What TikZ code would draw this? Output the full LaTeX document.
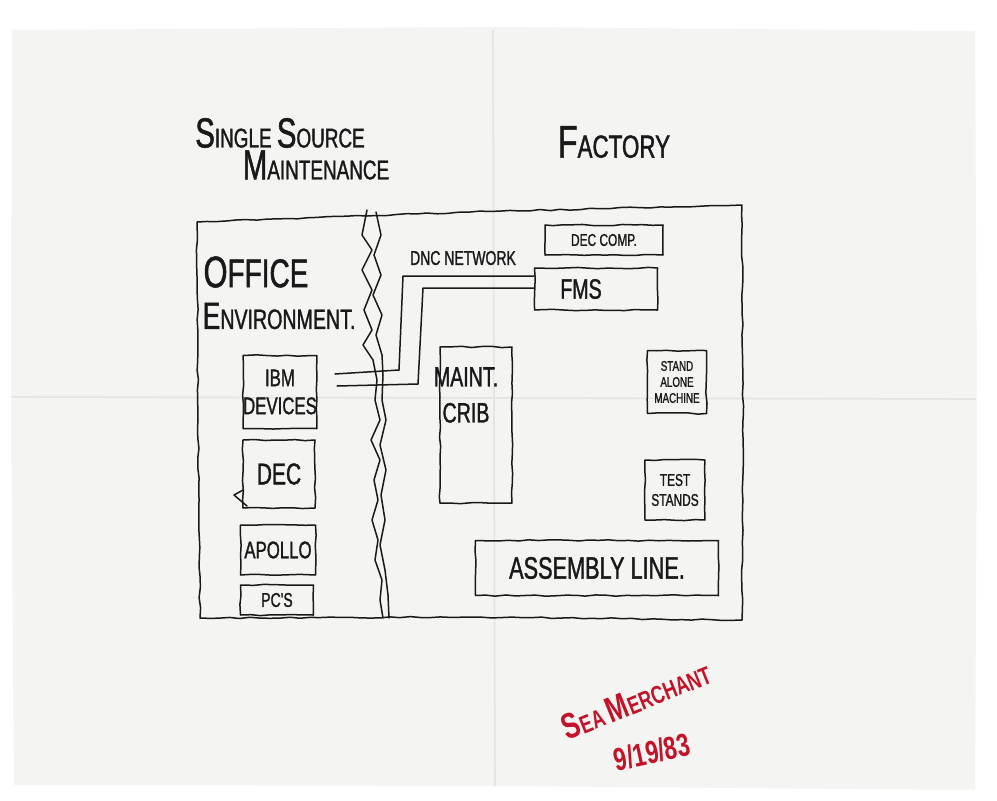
\documentclass[tikz,border=0pt]{standalone}
\usepackage{fontspec}
\newfontfamily\hand[FakeStretch=0.7,FakeBold=1.2]{Liberation Sans}
\newfontfamily\redhand[FakeStretch=0.72]{Liberation Sans Bold}
\usetikzlibrary{decorations.pathmorphing}
\newcommand\hsz[1]{\fontsize{#1}{#1}\selectfont}
\definecolor{napkin}{RGB}{244,244,242}
\definecolor{fold}{RGB}{228,228,226}
\definecolor{ink}{RGB}{25,25,25}
\definecolor{redink}{RGB}{196,18,40}
\tikzset{
  pen/.style={line width=1.5pt, draw=ink, line cap=round, line join=round},
  sk/.style={decorate, decoration={random steps, segment length=10pt, amplitude=0.7pt}},
  hbox/.style={pen, sk, rectangle, inner sep=0pt, align=center, text=ink, font=\hand},
  htext/.style={text=ink, font=\hand, inner sep=0pt, align=center},
  rtext/.style={text=redink, font=\redhand, inner sep=0pt, align=center},
}
\begin{document}
\begin{tikzpicture}[x=1pt,y=-1pt]
\pgfmathsetseed{7}
\useasboundingbox (0,0) rectangle (997,801);
\fill[white] (0,0) rectangle (997,801);
% napkin
\fill[napkin] (12,30) -- (500,27) -- (975,31) -- (977,420) -- (975,790) -- (500,786) -- (14,785) -- (11,400) -- cycle;
\draw[fold, line width=1.6pt] (493,30) -- (495,786);
\draw[fold, line width=1.6pt] (12,397) -- (976,399);

% titles
\node[htext] (t1) at (280,133) {\hsz{42}S\hsz{27}INGLE \hsz{42}S\hsz{27}OURCE};
\node[htext] (t2) at (316,165) {\hsz{42}M\hsz{27}AINTENANCE};
\node[htext] (t3) at (614,142) {\hsz{46}F\hsz{32}ACTORY};

% frame
\draw[pen, sk] (197,222) -- (470,212) -- (742,205) -- (743,420) -- (742,620) -- (470,617) -- (200,618) -- (198,420) -- cycle;

% divider
\draw[pen] (367,210) -- (362,235) -- (372,250) -- (362,270) -- (372,290) -- (364,310) -- (372,330) -- (363,345) -- (373,360) -- (377,380) -- (375,400) -- (380,420) -- (371,440) -- (380,460) -- (374,480) -- (378,500) -- (372,520) -- (378,540) -- (375,560) -- (382,580) -- (380,600) -- (383,618);
\draw[pen] (376,212) -- (381,235) -- (374,255) -- (381,275) -- (373,295) -- (382,315) -- (376,335) -- (382,355) -- (383,375) -- (382,400) -- (386,420) -- (380,445) -- (386,470) -- (381,495) -- (385,520) -- (380,545) -- (385,570) -- (388,595) -- (389,618);

% office side
\node[htext] (off1) at (256,272) {\hsz{44}O\hsz{40}FFICE};
\node[htext] (off2) at (279,316) {\hsz{38}E\hsz{28}NVIRONMENT.};
\node[hbox, font=\hand\hsz{24}, minimum width=70pt, minimum height=73pt] (ibm) at (280,392) {IBM\\[4pt]DEVICES};
\node[hbox, font=\hand\hsz{30}, minimum width=72pt, minimum height=68pt] (dec) at (279,474) {DEC};
\draw[pen] (243,490) -- (234,495) -- (247,506);
\node[hbox, font=\hand\hsz{24}, minimum width=75pt, minimum height=50pt] (apollo) at (278,550) {APOLLO};
\node[hbox, font=\hand\hsz{20}, minimum width=73pt, minimum height=30pt] (pcs) at (277,600) {PC'S};

% factory side
\node[htext, font=\hand\hsz{20}] (dnc) at (463,258) {DNC NETWORK};
\node[hbox, font=\hand\hsz{17}, minimum width=118pt, minimum height=30pt] (decc) at (604,240) {DEC COMP.};
\node[hbox, font=\hand\hsz{28}, minimum width=123pt, minimum height=42pt] (fms) at (596,289) {FMS\hspace*{30pt}};
\node[hbox, minimum width=72pt, minimum height=156pt] (crib) at (476,425) {};
\node[htext, font=\hand\hsz{28}, anchor=north] (cribt) at (466,367) {MAINT.\\[8pt]CRIB};
\node[hbox, font=\hand\hsz{14}, minimum width=59pt, minimum height=63pt] (stand) at (677,382) {STAND\\[2pt]ALONE\\[2pt]MACHINE};
\node[hbox, font=\hand\hsz{17}, minimum width=60pt, minimum height=60pt] (test) at (675,490) {TEST\\[3pt]STANDS};
\node[hbox, font=\hand\hsz{31}, minimum width=243pt, minimum height=55pt] (asm) at (597,568) {ASSEMBLY LINE.};

% DNC network lines
\coordinate (a0) at (335,374);
\coordinate (b0) at (337,386);
\draw[pen] (a0) -- (399,370) -- (403,276) -- (fms.west |- 0,276);
\draw[pen] (b0) -- (418,384) -- (423,288) -- (fms.west |- 0,288);

% red signature
\node[rtext, rotate=22] (sea) at (636,700) {\hsz{36}S\hsz{25}EA \hsz{36}M\hsz{25}ERCHANT};
\node[rtext, rotate=12, font=\redhand\hsz{32}] (date) at (652,752) {9/19/83};
\end{tikzpicture}
\end{document}
